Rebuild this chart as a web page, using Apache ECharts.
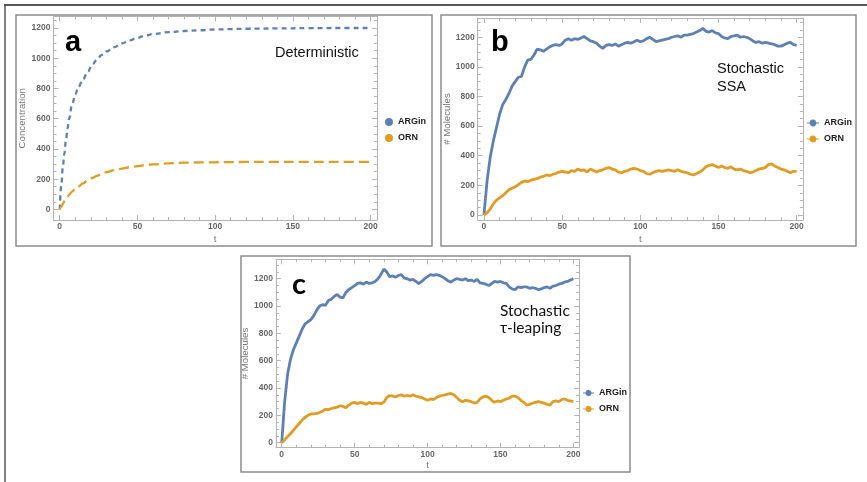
<!DOCTYPE html>
<html>
<head>
<meta charset="utf-8">
<script src="https://cdn.jsdelivr.net/npm/echarts@6/dist/echarts.min.js"></script>
<style>
html, body { margin: 0; padding: 0; background: #ffffff; }
#chart { width: 867px; height: 482px; }
</style>
</head>
<body>
<div id="chart"></div>
<script>
// ---- data ----
const seriesNames = ['ARGin', 'ORN'];

// deterministic model (panel a)
const tDet = [0, 1, 2, 3, 4, 5, 6, 8, 10, 12, 15, 18, 21, 24, 27, 30, 35, 40, 45, 50, 55, 60, 70, 80, 90, 100, 110, 120, 140, 160, 180, 200];
const argDet = [0, 155, 280, 370, 455, 535, 600, 695, 760, 810, 862, 910, 958, 992, 1022, 1045, 1073, 1098, 1118, 1136, 1150, 1160, 1172, 1180, 1185, 1190, 1193, 1195, 1197, 1199, 1200, 1200];
const ornDet = [0, 18, 36, 54, 70, 84, 96, 118, 136, 152, 172, 192, 208, 222, 236, 246, 260, 270, 279, 287, 293, 298, 305, 309, 311, 312, 313, 314, 315, 315, 315, 315];

// sampling times of the stochastic runs (panels b and c)
const tStoch = [0, 2, 4, 6, 8, 10, 12, 14, 16, 18, 20, 22, 24, 26, 28, 30, 32, 34, 36, 38, 40, 42, 44, 46, 48, 50,
  52, 54, 56, 58, 60, 62, 64, 66, 68, 70, 72, 74, 76, 78, 80, 82, 84, 86, 88, 90, 92, 94, 96, 98, 100,
  102, 104, 106, 108, 110, 112, 114, 116, 118, 120, 122, 124, 126, 128, 130, 132, 134, 136, 138, 140, 142, 144, 146, 148, 150,
  152, 154, 156, 158, 160, 162, 164, 166, 168, 170, 172, 174, 176, 178, 180, 182, 184, 186, 188, 190, 192, 194, 196, 198, 200];

// SSA run (panel b)
const argSSA = [0, 230, 390, 500, 590, 680, 745, 780, 820, 870, 900, 930, 935, 1000, 1045, 1050, 1080, 1120, 1115, 1105, 1120, 1135, 1145, 1150, 1145, 1155,
  1180, 1190, 1180, 1190, 1185, 1195, 1205, 1190, 1175, 1170, 1160, 1140, 1125, 1145, 1150, 1145, 1155, 1140, 1150, 1160, 1165, 1160, 1170, 1180, 1170,
  1175, 1190, 1200, 1185, 1170, 1175, 1180, 1185, 1190, 1200, 1205, 1210, 1200, 1215, 1215, 1220, 1225, 1235, 1245, 1260, 1240, 1235, 1245, 1230, 1225,
  1205, 1195, 1190, 1205, 1210, 1215, 1200, 1205, 1200, 1190, 1175, 1165, 1170, 1160, 1165, 1160, 1155, 1150, 1140, 1140, 1150, 1160, 1165, 1150, 1145];
const ornSSA = [0, 15, 40, 75, 100, 115, 130, 150, 170, 180, 190, 205, 220, 230, 225, 235, 240, 245, 255, 260, 270, 265, 275, 280, 290, 295,
  290, 285, 300, 295, 310, 300, 305, 290, 310, 300, 290, 300, 305, 315, 320, 310, 305, 290, 285, 295, 300, 310, 315, 310, 300,
  295, 280, 275, 285, 295, 300, 295, 300, 305, 300, 295, 305, 295, 290, 285, 275, 270, 280, 290, 305, 325, 335, 340, 330, 320,
  330, 320, 315, 325, 310, 305, 310, 300, 295, 285, 290, 300, 310, 315, 320, 340, 345, 330, 320, 310, 305, 295, 285, 295, 295];

// tau-leaping run (panel c)
const argTau = [0, 300, 500, 610, 680, 730, 780, 830, 870, 885, 900, 930, 970, 1000, 1010, 1005, 1040, 1050, 1070, 1085, 1065, 1060, 1100, 1120, 1135, 1150,
  1165, 1170, 1160, 1175, 1165, 1170, 1180, 1200, 1230, 1270, 1250, 1215, 1220, 1210, 1225, 1230, 1205, 1200, 1190, 1195, 1180, 1165, 1180, 1200, 1215,
  1230, 1225, 1230, 1225, 1215, 1200, 1185, 1175, 1190, 1200, 1195, 1190, 1200, 1185, 1190, 1180, 1195, 1170, 1165, 1160, 1150, 1165, 1180, 1175, 1180,
  1170, 1165, 1140, 1125, 1120, 1140, 1135, 1140, 1140, 1130, 1135, 1130, 1120, 1125, 1135, 1140, 1130, 1145, 1150, 1160, 1165, 1175, 1180, 1190, 1200];
const ornTau = [0, 20, 45, 65, 90, 115, 140, 165, 185, 200, 210, 210, 215, 220, 230, 245, 240, 250, 255, 260, 270, 265, 255, 275, 290, 295,
  285, 295, 290, 280, 295, 285, 290, 290, 285, 295, 330, 345, 340, 335, 345, 350, 340, 345, 340, 350, 340, 335, 330, 320, 310,
  320, 315, 330, 340, 345, 350, 355, 360, 350, 330, 310, 300, 310, 305, 300, 290, 295, 320, 335, 340, 330, 310, 295, 305, 300,
  310, 320, 325, 340, 340, 330, 310, 295, 275, 280, 290, 295, 300, 295, 290, 280, 275, 300, 305, 300, 315, 320, 310, 305, 300];

// tick positions
const xTicks = [0, 50, 100, 150, 200];
const xMinor = [10, 20, 30, 40, 60, 70, 80, 90, 110, 120, 130, 140, 160, 170, 180, 190];
const yTicks = [0, 200, 400, 600, 800, 1000, 1200];
const yMinor = [50, 100, 150, 250, 300, 350, 450, 500, 550, 650, 700, 750, 850, 900, 950, 1050, 1100, 1150, 1250, 1300];

// ---- styling ----
const BLUE = '#5E81B5';
const ORANGE = '#E19C24';
const FRAME = '#b4b4b4';
const TICK = '#b4b4b4';
const LABEL_FONT = '"Liberation Sans", Arial, sans-serif';

function pair(ts, vs) { return ts.map((t, i) => [t, vs[i]]); }

// each panel: plot-area rectangle, axis ranges, titles
const panels = [
  { left: 53.5, top: 16.5, width: 323.4, height: 203.5, xMin: -4, xMax: 204, yMin: -70, yMax: 1276,
    yName: 'Concentration', yGap: 24, xGap: 14.5 },
  { left: 477.7, top: 18, width: 325.2, height: 202, xMin: -4, xMax: 204, yMin: -34, yMax: 1330,
    yName: '# Molecules', yGap: 24, xGap: 14.5 },
  { left: 275.9, top: 259.3, width: 303.3, height: 188.4, xMin: -4, xMax: 204, yMin: -37, yMax: 1342,
    yName: '# Molecules', yGap: 23.5, xGap: 12.5 }
];

const grids = [], xAxes = [], yAxes = [];
panels.forEach((p, gi) => {
  grids.push({ left: p.left, top: p.top, width: p.width, height: p.height, containLabel: false });
  const labelStyle = { color: '#666', fontWeight: 'bold', fontSize: 8.5, fontFamily: LABEL_FONT };
  const nameStyle = { color: '#777', fontSize: 9.7, fontFamily: LABEL_FONT };
  const baseX = { type: 'value', gridIndex: gi, min: p.xMin, max: p.xMax, splitLine: { show: false } };
  const baseY = { type: 'value', gridIndex: gi, min: p.yMin, max: p.yMax, splitLine: { show: false } };
  const frameLine = { show: true, onZero: false, lineStyle: { color: FRAME, width: 1 } };
  const noLine = { show: false, onZero: false };
  const major = vals => ({ show: true, inside: true, length: 5, customValues: vals, lineStyle: { color: TICK, width: 1 } });
  const minor = vals => ({ show: true, inside: true, length: 3, customValues: vals, lineStyle: { color: TICK, width: 1 } });

  xAxes.push(Object.assign({}, baseX, {
    position: 'bottom', axisLine: frameLine, axisTick: major(xTicks),
    axisLabel: Object.assign({ customValues: xTicks, margin: 2, formatter: v => String(v) }, labelStyle),
    name: 't', nameLocation: 'middle', nameGap: p.xGap, nameTextStyle: nameStyle
  }));
  xAxes.push(Object.assign({}, baseX, { position: 'bottom', axisLine: noLine, axisTick: minor(xMinor), axisLabel: { show: false } }));
  xAxes.push(Object.assign({}, baseX, { position: 'top', axisLine: frameLine, axisTick: major(xTicks), axisLabel: { show: false } }));
  xAxes.push(Object.assign({}, baseX, { position: 'top', axisLine: noLine, axisTick: minor(xMinor), axisLabel: { show: false } }));

  yAxes.push(Object.assign({}, baseY, {
    position: 'left', axisLine: frameLine, axisTick: major(yTicks),
    axisLabel: Object.assign({ customValues: yTicks, margin: 3, formatter: v => String(v) }, labelStyle),
    name: p.yName, nameLocation: 'middle', nameGap: p.yGap, nameTextStyle: nameStyle
  }));
  yAxes.push(Object.assign({}, baseY, { position: 'left', axisLine: noLine, axisTick: minor(yMinor), axisLabel: { show: false } }));
  yAxes.push(Object.assign({}, baseY, { position: 'right', axisLine: frameLine, axisTick: major(yTicks), axisLabel: { show: false } }));
  yAxes.push(Object.assign({}, baseY, { position: 'right', axisLine: noLine, axisTick: minor(yMinor), axisLabel: { show: false } }));
});

function lineSeries(name, gi, data, color, extra) {
  return Object.assign({
    type: 'line', name: name, xAxisIndex: gi * 4, yAxisIndex: gi * 4, data: data,
    showSymbol: false, symbol: 'circle', symbolSize: 6, color: color,
    lineStyle: { color: color, width: 2.8 }, emphasis: { disabled: true }, animation: false
  }, extra || {});
}

const series = [
  lineSeries('ARGin', 0, pair(tDet, argDet), BLUE, { smooth: 0.4, smoothMonotone: 'x', lineStyle: { color: BLUE, width: 2.3, type: [5, 4] } }),
  lineSeries('ORN', 0, pair(tDet, ornDet), ORANGE, { smooth: 0.4, smoothMonotone: 'x', lineStyle: { color: ORANGE, width: 2.3, type: [10, 5] } }),
  lineSeries('ARGin', 1, pair(tStoch, argSSA), BLUE),
  lineSeries('ORN', 1, pair(tStoch, ornSSA), ORANGE),
  lineSeries('ARGin', 2, pair(tStoch, argTau), BLUE),
  lineSeries('ORN', 2, pair(tStoch, ornTau), ORANGE)
];

// legend icon: short line with a dot
const LINE_DOT = 'path://M0,3.3H3.06A4,4 0 0 1 10.94,3.3H14V4.7H10.94A4,4 0 0 1 3.06,4.7H0Z';
const legendText = { color: '#222', fontWeight: 'bold', fontSize: 9, fontFamily: LABEL_FONT, lineHeight: 11 };
const legends = [
  { left: 385, top: 116.5, icon: 'circle', itemWidth: 8, itemHeight: 8 },
  { left: 807, top: 117.5, icon: LINE_DOT, itemWidth: 12, itemHeight: 8 },
  { left: 583, top: 387.5, icon: LINE_DOT, itemWidth: 11, itemHeight: 8 }
].map(l => Object.assign({
  orient: 'vertical', padding: 0, itemGap: 5, data: seriesNames, selectedMode: false,
  textStyle: legendText
}, l));

// panel frames, outer rules and annotations
const TITLE_FONT = '"Liberation Sans", Arial, sans-serif';
const graphic = [
  { type: 'line', shape: { x1: 4, y1: 5, x2: 867, y2: 5 }, style: { stroke: '#222', lineWidth: 1.5 }, silent: true },
  { type: 'line', shape: { x1: 5, y1: 5, x2: 5, y2: 482 }, style: { stroke: '#555', lineWidth: 1.5 }, silent: true },
  { type: 'rect', shape: { x: 16, y: 15, width: 416, height: 231 }, style: { fill: 'none', stroke: '#8c8c8c', lineWidth: 1.5 }, silent: true },
  { type: 'rect', shape: { x: 441, y: 15, width: 415, height: 231 }, style: { fill: 'none', stroke: '#8c8c8c', lineWidth: 1.5 }, silent: true },
  { type: 'rect', shape: { x: 241, y: 256, width: 389, height: 216 }, style: { fill: 'none', stroke: '#8c8c8c', lineWidth: 1.5 }, silent: true },
  { type: 'text', left: 65, top: 28, style: { text: 'a', fill: '#000', font: 'bold 29px ' + TITLE_FONT }, silent: true },
  { type: 'text', left: 491, top: 28, style: { text: 'b', fill: '#000', font: 'bold 29px ' + TITLE_FONT }, silent: true },
  { type: 'text', left: 292, top: 270, style: { text: 'c', fill: '#000', font: 'bold 29px Lato, ' + TITLE_FONT }, silent: true },
  { type: 'text', left: 275, top: 45, style: { text: 'Deterministic', fill: '#111', font: '14.5px ' + TITLE_FONT }, silent: true },
  { type: 'text', left: 717, top: 60, style: { text: 'Stochastic\nSSA', fill: '#111', font: '14.5px ' + TITLE_FONT, lineHeight: 18 }, silent: true },
  { type: 'text', left: 500, top: 302, style: { text: 'Stochastic\nτ-leaping', fill: '#111', font: '15.5px Lato, ' + TITLE_FONT, lineHeight: 17.5 }, silent: true }
];

const chart = echarts.init(document.getElementById('chart'), null, { renderer: 'canvas' });
chart.setOption({
  animation: false,
  backgroundColor: '#ffffff',
  grid: grids,
  xAxis: xAxes,
  yAxis: yAxes,
  legend: legends,
  series: series,
  graphic: graphic
});
</script>
</body>
</html>
